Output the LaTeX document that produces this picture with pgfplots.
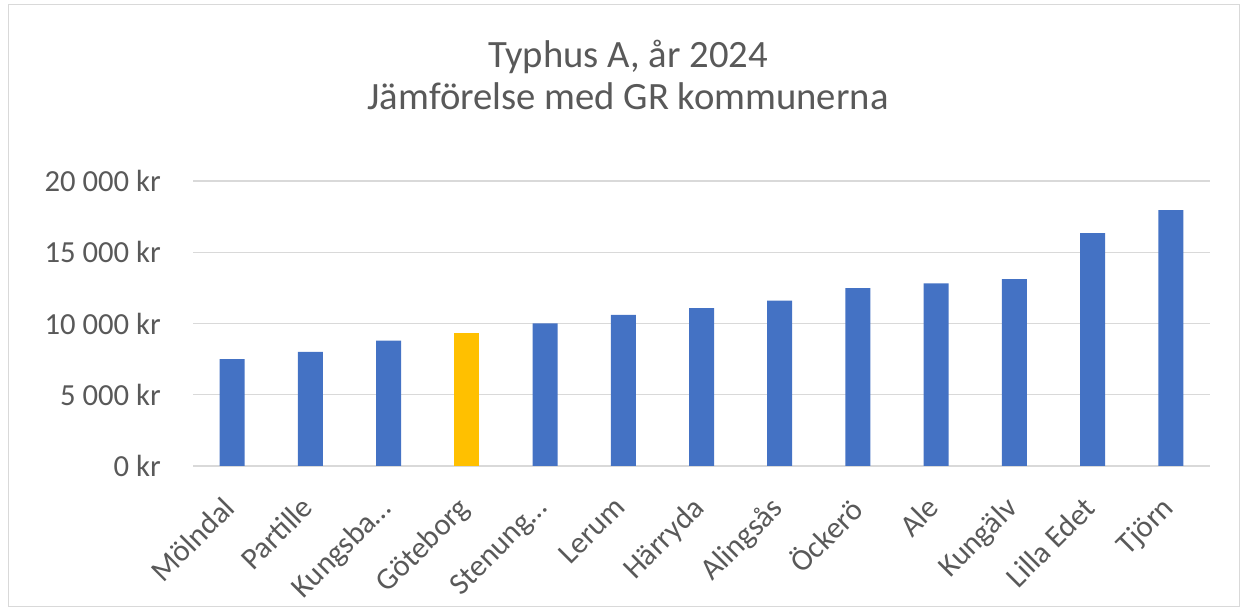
\documentclass[border=0pt]{standalone}
\usepackage{pgfplots}
\pgfplotsset{compat=1.18}
\usepackage{fontspec}
\setmainfont{Carlito}
\definecolor{txt}{HTML}{595959}
\definecolor{gridc}{HTML}{D9D9D9}
\definecolor{bblue}{HTML}{4472C4}
\definecolor{bgold}{HTML}{FFC000}
\begin{document}
\begin{tikzpicture}[x=0.75pt,y=0.75pt]
\useasboundingbox (0,0) rectangle (1247,610);
\draw[gridc] (8,4) rectangle (1239,606);
\node[txt, font=\fontsize{29}{32}\selectfont, anchor=base] at (628,542) {Typhus A, år 2024};
\node[txt, font=\fontsize{29}{32}\selectfont, anchor=base] at (628,500) {Jämförelse med GR kommunerna};
\begin{axis}[
  at={(193pt*0.75,144pt*0.75)}, anchor=south west,
  scale only axis, width=762.75pt, height=213.75pt,
  ybar, bar width=18.75pt,
  xmin=-0.5, xmax=12.5, ymin=0, ymax=20000,
  scaled y ticks=false,
  xtick={0,...,12},
  xticklabels={Mölndal,Partille,Kungsba\ldots,Göteborg,Stenung\ldots,Lerum,Härryda,Alingsås,Öckerö,Ale,Kungälv,Lilla Edet,Tjörn},
  x tick label style={xshift=-8pt, yshift=-21.5pt, rotate=45, anchor=north east, font=\fontsize{23}{25}\selectfont, text=txt, inner sep=0pt},
  ytick={0,5000,10000,15000,20000},
  yticklabels={0 kr,5 000 kr,10 000 kr,15 000 kr,20 000 kr},
  y tick label style={font=\fontsize{23}{25}\selectfont, text=txt, inner sep=0pt, anchor=east, xshift=-24pt},
  ymajorgrids, grid style={gridc, line width=1pt},
  axis x line*=bottom, axis y line*=left,
  x axis line style={gridc, line width=1pt, -},
  y axis line style={draw=none},
  major tick length=0pt,
  tick style={draw=none},
]
\addplot[fill=bblue, draw=none, bar shift=0pt] coordinates {(0,7500) (1,8000) (2,8800) (4,10000) (5,10600) (6,11070) (7,11600) (8,12490) (9,12820) (10,13120) (11,16350) (12,17960)};
\addplot[fill=bgold, draw=none, bar shift=0pt] coordinates {(3,9350)};
\end{axis}
\end{tikzpicture}
\end{document}
